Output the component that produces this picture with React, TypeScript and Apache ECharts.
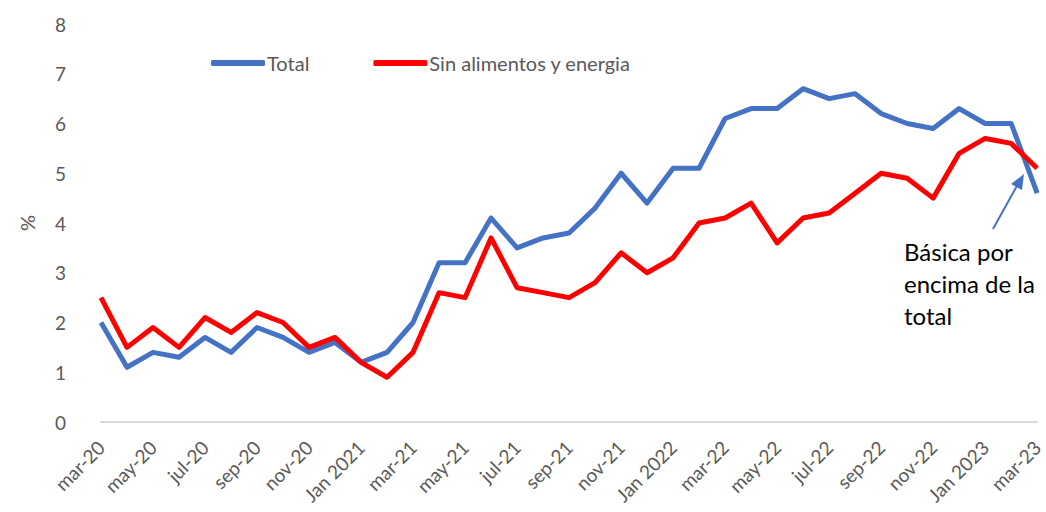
import React, { useEffect, useRef } from "react";
import * as echarts from "echarts";

const categories = [
  "mar-20", "abr-20", "may-20", "jun-20", "jul-20", "ago-20", "sep-20", "oct-20", "nov-20", "dic-20",
  "Jan 2021", "feb-21", "mar-21", "abr-21", "may-21", "jun-21", "jul-21", "ago-21", "sep-21", "oct-21", "nov-21", "dic-21",
  "Jan 2022", "feb-22", "mar-22", "abr-22", "may-22", "jun-22", "jul-22", "ago-22", "sep-22", "oct-22", "nov-22", "dic-22",
  "Jan 2023", "feb-23", "mar-23",
];

const total = [
  2.0, 1.1, 1.4, 1.3, 1.7, 1.4, 1.9, 1.7, 1.4, 1.6,
  1.2, 1.4, 2.0, 3.2, 3.2, 4.1, 3.5, 3.7, 3.8, 4.3, 5.0, 4.4,
  5.1, 5.1, 6.1, 6.3, 6.3, 6.7, 6.5, 6.6, 6.2, 6.0, 5.9, 6.3,
  6.0, 6.0, 4.6,
];

const sinAlimentos = [
  2.5, 1.5, 1.9, 1.5, 2.1, 1.8, 2.2, 2.0, 1.5, 1.7,
  1.2, 0.9, 1.4, 2.6, 2.5, 3.7, 2.7, 2.6, 2.5, 2.8, 3.4, 3.0,
  3.3, 4.0, 4.1, 4.4, 3.6, 4.1, 4.2, 4.6, 5.0, 4.9, 4.5, 5.4,
  5.7, 5.6, 5.1,
];

const FONT = "Lato, 'Open Sans', sans-serif";
const GRAY = "#595959";

export default function App() {
  const ref = useRef<HTMLDivElement>(null);
  useEffect(() => {
    document.body.style.margin = "0";
    const chart = echarts.init(ref.current!, null, { renderer: "svg" });
    chart.setOption({
      animation: false,
      backgroundColor: "#ffffff",
      textStyle: { fontFamily: FONT },
      grid: { left: 101, right: 3, top: 24, bottom: 90, containLabel: false },
      legend: {
        left: 206,
        top: 48,
        itemGap: 64,
        itemWidth: 54,
        itemHeight: 6,
        icon: "roundRect",
        textStyle: { fontFamily: FONT, fontSize: 20, color: GRAY, padding: [0, 0, 0, -3] },
        data: ["Total", "Sin alimentos y energia"],
      },
      xAxis: {
        type: "category",
        data: categories,
        boundaryGap: false,
        axisLine: { show: true, lineStyle: { color: "#d9d9d9", width: 2 } },
        axisTick: { show: false },
        axisLabel: {
          interval: 1,
          rotate: 45,
          margin: 22,
          fontFamily: FONT,
          fontSize: 19,
          color: GRAY,
        },
      },
      yAxis: {
        type: "value",
        min: 0,
        max: 8,
        interval: 1,
        name: "%",
        nameLocation: "middle",
        nameGap: 64,
        nameRotate: 90,
        nameTextStyle: { fontFamily: FONT, fontSize: 20, color: GRAY },
        splitLine: { show: false },
        axisLine: { show: false },
        axisTick: { show: false },
        axisLabel: { margin: 35, fontFamily: FONT, fontSize: 19, color: GRAY },
      },
      series: [
        {
          name: "Total",
          type: "line",
          data: total,
          showSymbol: false,
          symbol: "none",
          lineStyle: { color: "#4472C4", width: 5, join: "round" },
          itemStyle: { color: "#4472C4" },
        },
        {
          name: "Sin alimentos y energia",
          type: "line",
          data: sinAlimentos,
          showSymbol: false,
          symbol: "none",
          lineStyle: { color: "#FF0000", width: 5, join: "round" },
          itemStyle: { color: "#FF0000" },
        },
      ],
      graphic: [
        {
          type: "text",
          left: 904,
          top: 235,
          style: {
            text: "Básica por\nencima de la\ntotal",
            fontFamily: FONT,
            fontSize: 24,
            lineHeight: 32,
            fill: "#000000",
          },
        },
        {
          type: "line",
          shape: { x1: 993, y1: 229, x2: 1018, y2: 184 },
          style: { stroke: "#4472C4", lineWidth: 2 },
        },
        {
          type: "polygon",
          shape: { points: [[1024, 174], [1011, 184], [1022, 190]] },
          style: { fill: "#4472C4" },
        },
      ],
    });
    return () => chart.dispose();
  }, []);
  return <div ref={ref} style={{ width: 1046, height: 512 }} />;
}
